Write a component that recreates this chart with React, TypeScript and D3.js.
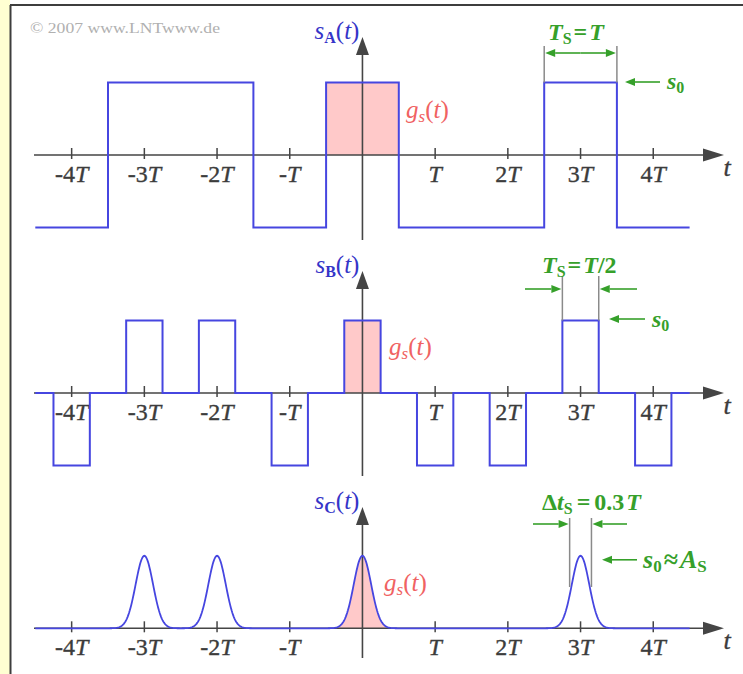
import React from "react";
import * as d3 from "d3";

// Symbol indices ν and the amplitude coefficients a_ν of the three pulse trains
const symbolIndex = [-4, -3, -2, -1, 0, 1, 2, 3, 4];
const bipolarSymbols = [-1, 1, 1, -1, 1, -1, -1, 1, -1];
const unipolarSymbols = [0, 1, 1, 0, 1, 0, 0, 1, 0];

// Time-axis ticks (multiples of T) and their labels
const tickValues = [-4, -3, -2, -1, 1, 2, 3, 4];
const tickPrefixes = ["-4", "-3", "-2", "-", "", "2", "3", "4"];

// Pulse parameters in units of T
const widthA = 1.0; // T_S = T
const widthB = 0.5; // T_S = T/2
const gaussWidth = 0.3; // Δt_S = 0.3T

const W = 743;
const H = 674;

const BLUE = "#4646E0";
const AXIS = "#454545";
const PINK = "#FFC9C9";
const RED = "#F06262";
const GREEN = "#36A02A";
const GRAY = "#8a8a8a";
const FONT = "'Liberation Serif', 'Times New Roman', serif";
const FS = 24;
const SUB = 16;

const x = d3.scaleLinear().domain([-4.5, 4.5]).range([35.3, 689.6]);

type Panel = {
  axisY: number;
  top: number;
  bottom: number;
  name: string;
};

const panels: Panel[] = [
  { axisY: 155, top: 37, bottom: 240, name: "A" },
  { axisY: 393, top: 271, bottom: 476, name: "B" },
  { axisY: 628.3, top: 507, bottom: 658, name: "C" },
];

const amp = 72.5;
const yFor = (p: Panel) =>
  d3.scaleLinear().domain([-1, 1]).range([p.axisY + amp, p.axisY - amp]);

// Rectangular pulse train with pulse width w (in T)
function rectPoints(w: number, amps: number[]): [number, number][] {
  const pts: [number, number][] = [];
  symbolIndex.forEach((nu, i) => {
    const a = amps[i];
    if (w >= 1) {
      pts.push([nu - 0.5, a], [nu + 0.5, a]);
    } else {
      pts.push(
        [nu - 0.5, 0],
        [nu - w / 2, 0],
        [nu - w / 2, a],
        [nu + w / 2, a],
        [nu + w / 2, 0],
        [nu + 0.5, 0]
      );
    }
  });
  return pts;
}

const gauss = (t: number) => Math.exp(-Math.PI * (t / gaussWidth) ** 2);

function gaussPoints(amps: number[]): [number, number][] {
  const pts: [number, number][] = [];
  const n = 900;
  for (let k = 0; k <= n; k++) {
    const t = -4.5 + (9 * k) / n;
    let s = 0;
    symbolIndex.forEach((nu, i) => {
      s += amps[i] * gauss(t - nu);
    });
    pts.push([t, s]);
  }
  return pts;
}

function Arrow({ x1, y1, x2, y2, color, head = 10, half = 4, width = 1.6 }: any) {
  const ang = Math.atan2(y2 - y1, x2 - x1);
  const bx = x2 - head * Math.cos(ang);
  const by = y2 - head * Math.sin(ang);
  const px = -Math.sin(ang) * half;
  const py = Math.cos(ang) * half;
  return (
    <g>
      <line x1={x1} y1={y1} x2={bx} y2={by} stroke={color} strokeWidth={width} />
      <polygon
        points={`${x2},${y2} ${bx + px},${by + py} ${bx - px},${by - py}`}
        fill={color}
      />
    </g>
  );
}

function Axes({ p }: { p: Panel }) {
  const x0 = x(0);
  return (
    <g>
      <line x1={34} y1={p.axisY} x2={704} y2={p.axisY} stroke={AXIS} strokeWidth={1.6} />
      <polygon
        points={`${724},${p.axisY} ${703},${p.axisY - 6.5} ${703},${p.axisY + 6.5}`}
        fill={AXIS}
      />
      <line x1={x0} y1={p.bottom} x2={x0} y2={p.top + 16} stroke={AXIS} strokeWidth={1.6} />
      <polygon
        points={`${x0},${p.top} ${x0 - 6.5},${p.top + 18} ${x0 + 6.5},${p.top + 18}`}
        fill={AXIS}
      />
      {tickValues.map((v, i) => (
        <g key={v}>
          <line
            x1={x(v)}
            x2={x(v)}
            y1={p.axisY - 7}
            y2={p.axisY + 4}
            stroke={AXIS}
            strokeWidth={1.5}
          />
          <text
            x={x(v)}
            y={p.axisY + 27}
            textAnchor="middle"
            fontFamily={FONT}
            fontSize={FS}
            fill="#3c3c3c"
            stroke="#3c3c3c"
            strokeWidth={0.35}
          >
            {tickPrefixes[i]}
            <tspan fontStyle="italic">T</tspan>
          </text>
        </g>
      ))}
      <text
        x={727}
        y={p.axisY + 21}
        textAnchor="middle"
        fontFamily={FONT}
        fontSize={FS + 2}
        fontStyle="italic"
        fill="#3c3c3c"
        stroke="#3c3c3c"
        strokeWidth={0.35}
      >
        t
      </text>
      <text
        x={x0 - 3}
        y={p.top + 2}
        textAnchor="end"
        fontFamily={FONT}
        fontSize={FS + 1}
        fill="#3535C8"
      >
        <tspan fontStyle="italic">s</tspan>
        <tspan fontSize={SUB} fontWeight="bold" dy={4}>
          {p.name}
        </tspan>
        <tspan dy={-4}>(</tspan>
        <tspan fontStyle="italic">t</tspan>
        <tspan>)</tspan>
      </text>
    </g>
  );
}

function GsLabel({ px, py }: { px: number; py: number }) {
  return (
    <text x={px} y={py} fontFamily={FONT} fontSize={FS + 1} fill={RED}>
      <tspan fontStyle="italic">g</tspan>
      <tspan fontSize={SUB + 1} dy={4} fontStyle="italic">s</tspan>
      <tspan dy={-4}>(</tspan>
      <tspan fontStyle="italic">t</tspan>
      <tspan>)</tspan>
    </text>
  );
}

export default function App() {
  const [pA, pB, pC] = panels;
  const yA = yFor(pA);
  const yB = yFor(pB);
  const yC = yFor(pC);

  const lineA = d3.line<[number, number]>().x((d) => x(d[0])).y((d) => yA(d[1]));
  const lineB = d3.line<[number, number]>().x((d) => x(d[0])).y((d) => yB(d[1]));
  const lineC = d3.line<[number, number]>().x((d) => x(d[0])).y((d) => yC(d[1]));

  // Reference pulse g_s(t) at ν = 0 for each panel
  const g0 = symbolIndex.indexOf(0);
  const fillA = d3
    .area<[number, number]>()
    .x((d) => x(d[0]))
    .y0(yA(0))
    .y1((d) => yA(d[1]))([
    [-widthA / 2, bipolarSymbols[g0]],
    [widthA / 2, bipolarSymbols[g0]],
  ]);
  const fillB = d3
    .area<[number, number]>()
    .x((d) => x(d[0]))
    .y0(yB(0))
    .y1((d) => yB(d[1]))([
    [-widthB / 2, bipolarSymbols[g0]],
    [widthB / 2, bipolarSymbols[g0]],
  ]);
  const gaussFill: [number, number][] = d3
    .range(-0.6, 0.6001, 0.01)
    .map((t) => [t, unipolarSymbols[g0] * gauss(t)]);
  const fillC = d3
    .area<[number, number]>()
    .x((d) => x(d[0]))
    .y0(yC(0))
    .y1((d) => yC(d[1]))(gaussFill);

  // Annotated pulse at ν = 3
  const iAnn = symbolIndex.indexOf(3);
  const aL = x(3 - widthA / 2);
  const aR = x(3 + widthA / 2);
  const bL = x(3 - widthB / 2);
  const bR = x(3 + widthB / 2);
  const cL = x(3 - gaussWidth / 2);
  const cR = x(3 + gaussWidth / 2);
  const topA = yA(bipolarSymbols[iAnn]);
  const topB = yB(bipolarSymbols[iAnn]);
  const topC = yC(unipolarSymbols[iAnn]);

  const greenText = {
    fontFamily: FONT,
    fontSize: FS,
    fill: GREEN,
    fontWeight: "bold" as const,
  };

  return (
    <svg
      width={W}
      height={H}
      style={{ position: "absolute", left: 0, top: 0, background: "#fff" }}
    >
      <rect x={0} y={0} width={W} height={H} fill="#fff" />
      <rect x={0} y={0} width={10} height={H} fill="#FFFFD2" />
      <line x1={10.5} y1={5} x2={10.5} y2={H} stroke="#3e3e3e" strokeWidth={2} />
      <line x1={10} y1={5} x2={W} y2={5} stroke="#3e3e3e" strokeWidth={2} />

      <text
        x={30}
        y={33}
        fontFamily={FONT}
        fontSize={15}
        fill="#b0b0b0"
        textLength={190}
        lengthAdjust="spacingAndGlyphs"
      >
        © 2007 www.LNTwww.de
      </text>

      {/* fills of the reference pulse */}
      <path d={fillA || ""} fill={PINK} />
      <path d={fillB || ""} fill={PINK} />
      <path d={fillC || ""} fill={PINK} />

      {panels.map((p) => (
        <Axes key={p.name} p={p} />
      ))}

      {/* signals */}
      <path d={lineA(rectPoints(widthA, bipolarSymbols)) || ""} fill="none" stroke={BLUE} strokeWidth={2} />
      <path d={lineB(rectPoints(widthB, bipolarSymbols)) || ""} fill="none" stroke={BLUE} strokeWidth={2} />
      <path d={lineC(gaussPoints(unipolarSymbols)) || ""} fill="none" stroke={BLUE} strokeWidth={1.8} />

      <GsLabel px={406} py={118} />
      <GsLabel px={389} py={355} />
      <GsLabel px={384} py={591} />

      {/* panel A annotation */}
      <line x1={aL} x2={aL} y1={46} y2={topA} stroke={GRAY} strokeWidth={1.5} />
      <line x1={aR} x2={aR} y1={46} y2={topA} stroke={GRAY} strokeWidth={1.5} />
      <Arrow x1={(aL + aR) / 2} y1={53} x2={aL + 1} y2={53} color={GREEN} />
      <Arrow x1={(aL + aR) / 2} y1={53} x2={aR - 1} y2={53} color={GREEN} />
      <text x={548} y={40} {...greenText}>
        <tspan fontStyle="italic">T</tspan>
        <tspan fontSize={SUB} dy={4}>S</tspan>
        <tspan dy={-4} dx={2}>=</tspan>
        <tspan fontStyle="italic" dx={2}>T</tspan>
      </text>
      <Arrow x1={660} y1={82} x2={625} y2={82} color={GREEN} />
      <text x={667} y={89} {...greenText}>
        <tspan fontStyle="italic">s</tspan>
        <tspan fontSize={SUB} dy={4}>0</tspan>
      </text>

      {/* panel B annotation */}
      <line x1={bL} x2={bL} y1={276} y2={topB} stroke={GRAY} strokeWidth={1.5} />
      <line x1={bR} x2={bR} y1={276} y2={topB} stroke={GRAY} strokeWidth={1.5} />
      <Arrow x1={525} y1={289} x2={bL - 1} y2={289} color={GREEN} />
      <Arrow x1={637} y1={289} x2={bR + 1} y2={289} color={GREEN} />
      <text x={542} y={273} {...greenText}>
        <tspan fontStyle="italic">T</tspan>
        <tspan fontSize={SUB} dy={4}>S</tspan>
        <tspan dy={-4} dx={2}>=</tspan>
        <tspan fontStyle="italic" dx={2}>T</tspan>
        <tspan>/2</tspan>
      </text>
      <Arrow x1={645} y1={319} x2={609} y2={319} color={GREEN} />
      <text x={652} y={327} {...greenText}>
        <tspan fontStyle="italic">s</tspan>
        <tspan fontSize={SUB} dy={4}>0</tspan>
      </text>

      {/* panel C annotation */}
      <line x1={cL} x2={cL} y1={518} y2={587} stroke={GRAY} strokeWidth={1.5} />
      <line x1={cR} x2={cR} y1={518} y2={587} stroke={GRAY} strokeWidth={1.5} />
      <Arrow x1={533} y1={524} x2={cL - 1} y2={524} color={GREEN} />
      <Arrow x1={627} y1={524} x2={cR + 1} y2={524} color={GREEN} />
      <text x={542} y={510} {...greenText}>
        <tspan>Δ</tspan>
        <tspan fontStyle="italic">t</tspan>
        <tspan fontSize={SUB} dy={4}>S</tspan>
        <tspan dy={-4} dx={4}>=</tspan>
        <tspan dx={4}>0.3</tspan>
        <tspan fontStyle="italic" dx={2}>T</tspan>
      </text>
      <Arrow x1={637} y1={topC + 4} x2={602} y2={topC + 4} color={GREEN} />
      <text x={643} y={568} {...greenText} fontSize={FS + 2}>
        <tspan fontStyle="italic">s</tspan>
        <tspan fontSize={SUB + 1} dy={4}>0</tspan>
        <tspan dy={-4} dx={2}>≈</tspan>
        <tspan fontStyle="italic" dx={2}>A</tspan>
        <tspan fontSize={SUB + 1} dy={4}>S</tspan>
      </text>
    </svg>
  );
}
